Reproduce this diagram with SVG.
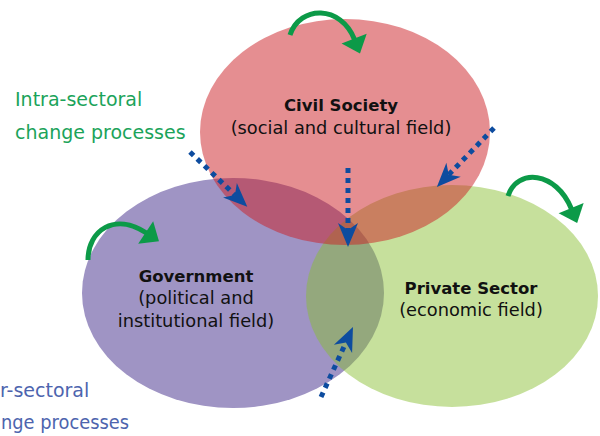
<svg xmlns="http://www.w3.org/2000/svg" width="600" height="436" viewBox="0 0 600 436">
<style>
.lbl{font-family:"DejaVu Sans",Verdana,sans-serif;font-size:17.8px;fill:#111;text-anchor:middle}
.b{font-weight:bold;font-size:16.5px}
.side{font-family:"DejaVu Sans",Verdana,sans-serif;font-size:19px}
.intra{fill:#1ba35a}
.inter{fill:#4d64ae}
.dot{fill:none;stroke:#0d4c9f;stroke-width:5;stroke-dasharray:5 5}
.curv{fill:none;stroke:#0c9a48;stroke-width:5}
</style>
<defs>
<marker id="bh" markerUnits="userSpaceOnUse" viewBox="0 -12 26 24" markerWidth="26" markerHeight="24" refX="7" refY="0" orient="auto" overflow="visible">
<path d="M0,-10 L24,0 L0,10 L7,0 Z" fill="#0d4c9f"/>
</marker>
<marker id="gh" markerUnits="userSpaceOnUse" viewBox="0 -14 18 28" markerWidth="18" markerHeight="28" refX="1" refY="0" orient="auto" overflow="visible">
<path d="M0,-13.5 L16,0 L0,13.5 Z" fill="#0c9a48"/>
</marker>
</defs>
<g id="government"><ellipse cx="233" cy="293" rx="151" ry="115" fill="#9f94c4"/></g>
<g id="private-sector"><ellipse cx="452" cy="296" rx="146" ry="111" fill="#88be31" fill-opacity="0.48"/></g>
<g id="civil-society"><ellipse cx="345" cy="132" rx="145" ry="113" fill="#cb1e23" fill-opacity="0.5"/></g>
<g id="labels">
<text class="lbl b" x="341" y="111">Civil Society</text>
<text class="lbl" x="341" y="134">(social and cultural field)</text>
<text class="lbl b" x="196" y="282">Government</text>
<text class="lbl" x="196" y="304">(political and</text>
<text class="lbl" x="196" y="327">institutional field)</text>
<text class="lbl b" x="471" y="294">Private Sector</text>
<text class="lbl" x="471" y="316">(economic field)</text>
<text class="side intra" x="15" y="106">Intra-sectoral</text>
<text class="side intra" x="15" y="139">change processes</text>
<text class="side inter" x="0" y="397">r-sectoral</text>
<text class="side inter" x="1" y="429" textLength="128" lengthAdjust="spacingAndGlyphs">nge processes</text>
</g>
<g id="connectors">
<path class="curv" d="M290,35 C300,5 341,5 354.5,39.5" marker-end="url(#gh)"/>
<path class="curv" d="M508,196 C517,168 556,171 571.5,209" marker-end="url(#gh)"/>
<path class="curv" d="M88,260 C88,230 115,212 146.5,233" marker-end="url(#gh)"/>
<path class="dot" d="M190,152 L235,195" marker-end="url(#bh)"/>
<path class="dot" d="M348,168 L348,230" marker-end="url(#bh)"/>
<path class="dot" d="M494,128 L448.7,174.7" marker-end="url(#bh)"/>
<path class="dot" d="M321,397 L345.9,342.5" marker-end="url(#bh)"/>
</g>
</svg>
